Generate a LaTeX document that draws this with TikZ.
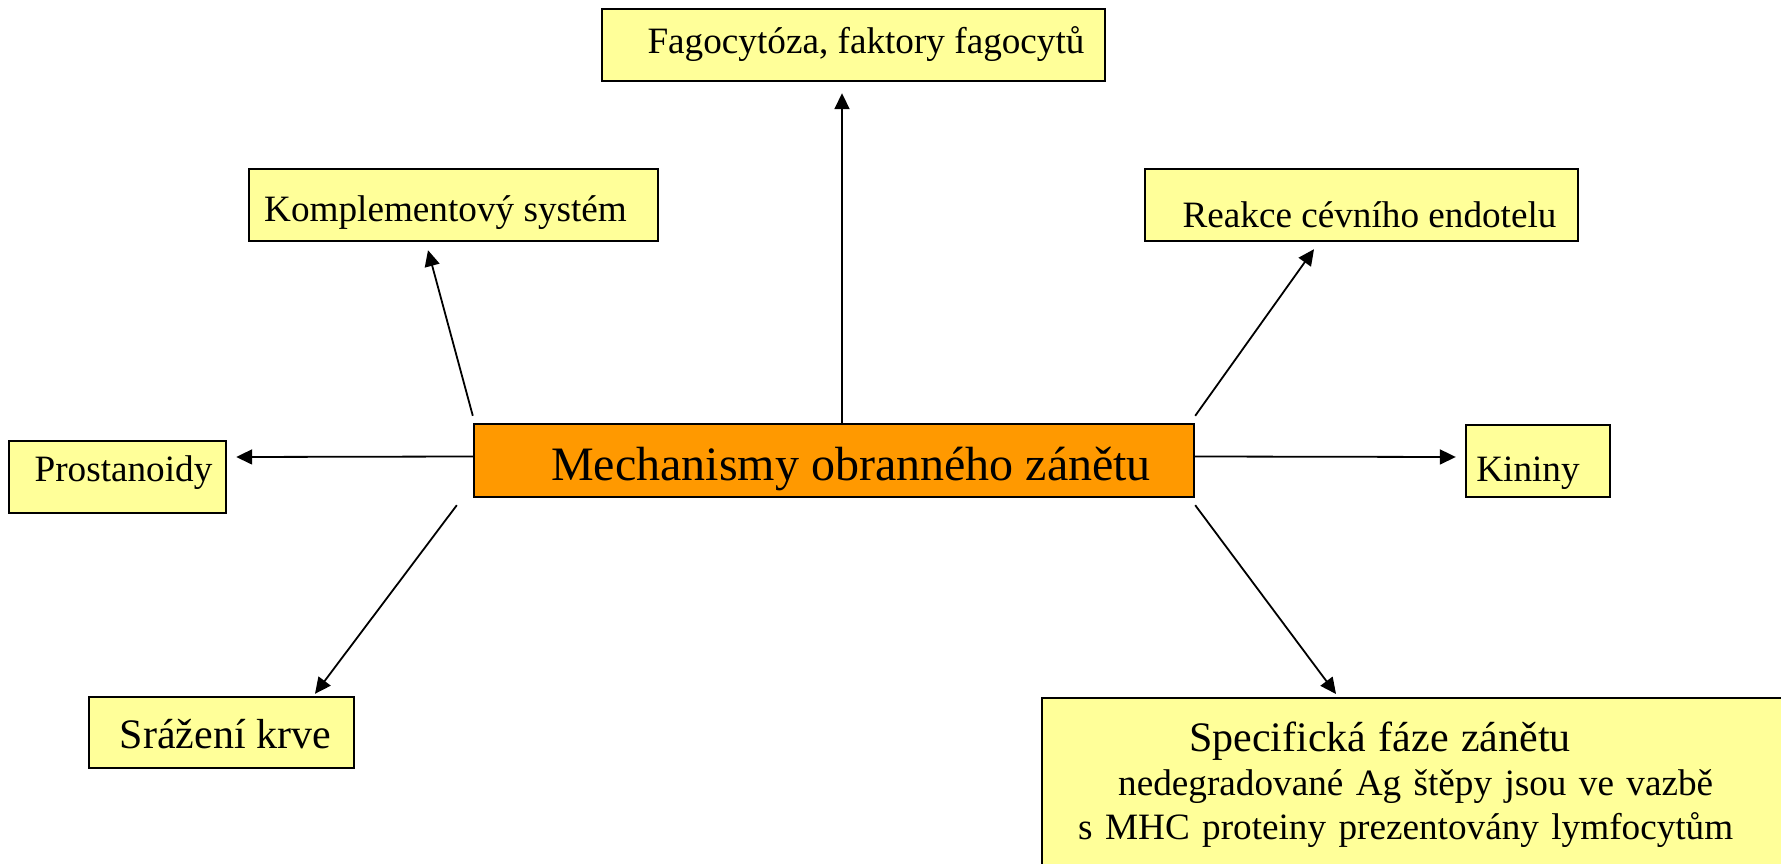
\documentclass[tikz,border=0pt]{standalone}
\usepackage{fontspec}
\setmainfont{Liberation Serif}
\usetikzlibrary{arrows.meta}

\definecolor{boxyellow}{HTML}{FFFF99}
\definecolor{boxorange}{HTML}{FF9900}

\begin{document}
\begin{tikzpicture}[x=50pt, y=50pt,
    ybox/.style={draw, line width=1.2pt, fill=boxyellow, inner sep=0pt, text depth=0pt,
      minimum height=36pt, font=\fontsize{18.6}{22}\selectfont},
    arr/.style={-{Triangle[length=8pt, width=7.5pt]}, line width=0.9pt}]

      \useasboundingbox (0, 0) rectangle (17.81, 8.63);

      \node[ybox, fill=boxorange, minimum width=360pt, minimum height=36.5pt, text height=20pt,
        font=\fontsize{24}{28}\selectfont] (ctr) at (8.34, 4.025) {\hspace*{17pt}Mechanismy obranného zánětu};

      \node[ybox, minimum width=251.5pt, text height=9pt] (fag) at (8.535, 8.18) {\hspace*{12.5pt}Fagocytóza, faktory fagocytů};
      \node[ybox, minimum width=204.5pt, text height=16.7pt] (komp) at (4.535, 6.58) {Komplementový systém\hspace*{8pt}};
      \node[ybox, minimum width=216.5pt, text height=23pt] (reak) at (13.615, 6.58) {\hspace*{8pt}Reakce cévního endotelu};
      \node[ybox, minimum width=108.5pt, text height=4.7pt] (prost) at (1.175, 3.86) {\hspace*{6pt}Prostanoidy};
      \node[ybox, minimum width=72pt, text height=20pt] (kin) at (15.38, 4.02) {Kininy\hspace*{10pt}};
      \node[ybox, minimum width=132.5pt, minimum height=35.5pt, text height=15.5pt,
        font=\fontsize{21}{25}\selectfont] (sraz) at (2.215, 1.305) {\hspace*{4pt}Srážení krve};

      \node[ybox, anchor=north west, text width=380pt, align=left, inner ysep=12pt,
        text height=, text depth=] (spec) at (10.41, 1.66)
        {\hspace*{73.5pt}{\fontsize{21}{22}\selectfont Specifická fáze zánětu}\\
         \hspace*{38pt}nedegradované Ag štěpy jsou ve vazbě\\
         \hspace*{18pt}s MHC proteiny prezentovány lymfocytům};

      \draw[arr] ([xshift=4pt]ctr.north) -- ([xshift=-5.75pt, yshift=-5.5pt]fag.south);
      \draw[arr] ([yshift=3.5pt]ctr.north west) -- ([xshift=-12.75pt, yshift=-4pt]komp.south);
      \draw[arr] ([yshift=3.5pt]ctr.north east) -- ([xshift=-23.75pt, yshift=-3.5pt]reak.south);
      \draw[arr] ([yshift=2pt]ctr.west) -- ([xshift=4.5pt, yshift=10pt]prost.east);
      \draw[arr] ([yshift=2pt]ctr.east) -- ([xshift=-4.5pt, yshift=2pt]kin.west);
      \draw[arr] ([xshift=-8pt, yshift=-3.5pt]ctr.south west) -- ([xshift=46.75pt, yshift=1pt]sraz.north);
      \draw[arr] ([yshift=-3.5pt]ctr.south east) -- ([xshift=147.5pt, yshift=1.5pt]spec.north west);

    \end{tikzpicture}
\end{document}
